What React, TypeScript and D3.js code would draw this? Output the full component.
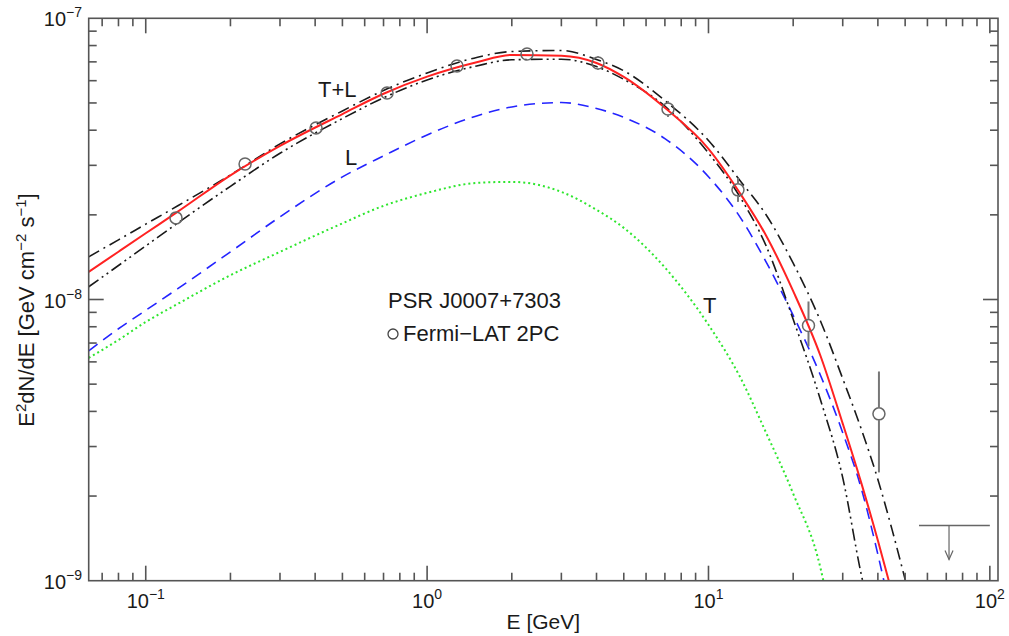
import React from 'react';
import * as d3 from 'd3';

// ---- axis domains ----
const X_MIN = 0.0627;
const X_MAX = 106.9;
const Y_MIN = 1e-9;
const Y_MAX = 1e-7;
const UNIT = 1e-8; // flux values below are in units of 1e-8 GeV cm^-2 s^-1

// ---- model curves ----
const totalE = [0.0627, 0.08, 0.1, 0.13, 0.2, 0.3, 0.5, 0.7, 1, 1.5, 2, 3, 4, 5, 7, 10, 13, 16, 20, 25, 30, 35, 40, 45];
const totalF = [1.254, 1.479, 1.72, 2.053, 2.765, 3.518, 4.566, 5.391, 6.202, 6.977, 7.41, 7.36, 6.938, 6.186, 4.803, 3.435, 2.371, 1.692, 1.071, 0.631, 0.362, 0.221, 0.139, 0.09];

const lE = [0.0627, 0.08, 0.1, 0.13, 0.2, 0.3, 0.5, 0.7, 1, 1.5, 2, 3, 4, 5, 7, 10, 13, 16, 20, 25, 30, 35, 40, 45];
const lF = [0.657, 0.787, 0.915, 1.093, 1.477, 1.968, 2.729, 3.241, 3.848, 4.495, 4.838, 5.016, 4.779, 4.444, 3.734, 2.734, 1.951, 1.364, 0.878, 0.538, 0.336, 0.211, 0.124, 0.073];

const tE = [0.0627, 0.08, 0.1, 0.13, 0.2, 0.3, 0.5, 0.7, 1, 1.5, 2, 3, 4, 5, 7, 10, 13, 16, 20, 25, 30];
const tF = [0.62, 0.718, 0.832, 0.965, 1.22, 1.477, 1.866, 2.153, 2.394, 2.598, 2.62, 2.414, 2.084, 1.798, 1.299, 0.813, 0.526, 0.337, 0.204, 0.111, 0.041];

const upperE = [0.0627, 0.08, 0.1, 0.13, 0.2, 0.3, 0.5, 0.7, 1, 1.5, 2, 3, 4, 5, 7, 10, 13, 16, 20, 25, 30, 35, 40, 45, 50, 55];
const upperF = [1.418, 1.63, 1.853, 2.154, 2.774, 3.575, 4.684, 5.539, 6.392, 7.255, 7.62, 7.683, 7.137, 6.507, 5.099, 3.676, 2.635, 2.005, 1.346, 0.839, 0.523, 0.344, 0.229, 0.151, 0.101, 0.07];

const lowerE = [0.0627, 0.08, 0.1, 0.13, 0.2, 0.3, 0.5, 0.7, 1, 1.5, 2, 3, 4, 5, 7, 10, 13, 16, 20, 25, 30, 35, 38];
const lowerF = [1.11, 1.321, 1.55, 1.872, 2.527, 3.311, 4.401, 5.217, 6.036, 6.769, 7.12, 7.155, 6.736, 6.066, 4.87, 3.314, 2.298, 1.557, 0.85, 0.44, 0.2325, 0.104, 0.073];

// ---- Fermi-LAT 2PC points ----
const ptE = [0.1281, 0.2254, 0.403, 0.7204, 1.277, 2.265, 4.049, 7.18, 12.73, 22.67, 40.35];
const ptF = [1.951, 3.035, 4.076, 5.426, 6.769, 7.466, 6.938, 4.76, 2.454, 0.808, 0.392];
const ptLo = [1.9, 2.97, 4.0, 5.33, 6.66, 7.34, 6.551, 4.459, 2.224, 0.681, 0.2427];
const ptHi = [2.0, 3.1, 4.15, 5.52, 6.88, 7.59, 7.345, 5.083, 2.707, 0.984, 0.5547];

// upper limit
const ulE = 71.6;
const ulELo = 56.0;
const ulEHi = 100;
const ulF = 0.157;
const ulArrowF = 0.119;

// ticks
const xMajor = [0.1, 1, 10, 100];
const xMajorExp = ['−1', '0', '1', '2'];
const yMajor = [1e-9, 1e-8, 1e-7];
const yMajorExp = ['−9', '−8', '−7'];

const FONT = "'Liberation Sans', Arial, Helvetica, sans-serif";

export default function App() {
  const W = 1009, H = 636;
  const L = 88.7, R = 998, T = 18.3, B = 580.7;
  const x = d3.scaleLog().domain([X_MIN, X_MAX]).range([L, R]);
  const y = d3.scaleLog().domain([Y_MIN, Y_MAX]).range([B, T]);

  const mk = (es: number[], fs: number[]) => es.map((e, i) => [e, fs[i] * UNIT] as [number, number]);
  const line = d3.line<[number, number]>()
    .x(d => x(d[0]))
    .y(d => y(d[1]))
    .curve(d3.curveMonotoneX);

  const axisCol = '#555';
  const minorLen = 8, majorLen = 15;

  const xTicks: { v: number; major: boolean }[] = [];
  for (let d = -2; d <= 2; d++) {
    for (let m = 1; m <= 9; m++) {
      const v = m * Math.pow(10, d);
      if (v >= X_MIN && v <= X_MAX) xTicks.push({ v, major: m === 1 });
    }
  }
  const yTicks: { v: number; major: boolean }[] = [];
  for (let d = -9; d <= -8; d++) {
    for (let m = 1; m <= 9; m++) {
      const v = m * Math.pow(10, d);
      if (v > Y_MIN * 1.0001 && v < Y_MAX * 0.9999) yTicks.push({ v, major: m === 1 });
    }
  }

  const r = 6;

  return (
    <svg width={W} height={H} style={{ position: 'absolute', left: 0, top: 0, background: '#fff' }} fontFamily={FONT}>
      <defs>
        <clipPath id="plotclip">
          <rect x={L} y={T} width={R - L} height={B - T} />
        </clipPath>
      </defs>
      <rect x={0} y={0} width={W} height={H} fill="#fff" />

      <g clipPath="url(#plotclip)" fill="none">
        <path d={line(mk(tE, tF)) || ''} stroke="#2ee62e" strokeWidth={2} strokeDasharray="2,3" />
        <path d={line(mk(lE, lF)) || ''} stroke="#2424ff" strokeWidth={1.6} strokeDasharray="11,7" />
        <path d={line(mk(upperE, upperF)) || ''} stroke="#1a1a1a" strokeWidth={1.6} strokeDasharray="12,5,2,5" />
        <path d={line(mk(lowerE, lowerF)) || ''} stroke="#1a1a1a" strokeWidth={1.6} strokeDasharray="12,4,2,4,2,4" />
        <path d={line(mk(totalE, totalF)) || ''} stroke="#ff2222" strokeWidth={2} />
      </g>

      {/* data points */}
      <g stroke="#666" fill="none" strokeWidth={1.5}>
        {ptE.map((e, i) => {
          const cx = x(e), cy = y(ptF[i] * UNIT);
          const yh = y(ptHi[i] * UNIT), yl = y(ptLo[i] * UNIT);
          return (
            <g key={i}>
              <circle cx={cx} cy={cy} r={r} />
              {yh < cy - r && <line x1={cx} x2={cx} y1={yh} y2={cy - r} strokeWidth={2} stroke="#777" />}
              {yl > cy + r && <line x1={cx} x2={cx} y1={cy + r} y2={yl} strokeWidth={2} stroke="#777" />}
            </g>
          );
        })}
        {/* upper limit */}
        <line x1={x(ulELo)} x2={x(ulEHi)} y1={y(ulF * UNIT)} y2={y(ulF * UNIT)} stroke="#666" strokeWidth={1.5} />
        <line x1={x(ulE)} x2={x(ulE)} y1={y(ulF * UNIT)} y2={y(ulArrowF * UNIT)} stroke="#666" strokeWidth={1.2} />
        <path d={`M${x(ulE) - 4},${y(ulArrowF * UNIT) - 9} L${x(ulE)},${y(ulArrowF * UNIT)} L${x(ulE) + 4},${y(ulArrowF * UNIT) - 9}`} stroke="#666" strokeWidth={1.2} />
      </g>

      {/* frame and ticks */}
      <g stroke={axisCol} strokeWidth={1.6}>
        <rect x={L} y={T} width={R - L} height={B - T} fill="none" />
        {xTicks.map((t, i) => {
          const px = x(t.v);
          const len = t.major ? majorLen : minorLen;
          return (
            <g key={'xt' + i}>
              <line x1={px} x2={px} y1={B} y2={B - len} />
              <line x1={px} x2={px} y1={T} y2={T + len} />
            </g>
          );
        })}
        {yTicks.map((t, i) => {
          const py = y(t.v);
          const len = t.major ? majorLen : minorLen;
          return (
            <g key={'yt' + i}>
              <line x1={L} x2={L + len} y1={py} y2={py} />
              <line x1={R} x2={R - len} y1={py} y2={py} />
            </g>
          );
        })}
      </g>

      {/* tick labels */}
      <g fill="#1a1a1a" fontSize={20}>
        {xMajor.map((v, i) => (
          <text key={'xl' + i} x={x(v)} y={608} textAnchor="middle">
            10<tspan dy={-9} fontSize={14}>{xMajorExp[i]}</tspan>
          </text>
        ))}
        {yMajor.map((v, i) => (
          <text key={'yl' + i} x={82} y={y(v) + 8} textAnchor="end">
            10<tspan dy={-9} fontSize={14}>{yMajorExp[i]}</tspan>
          </text>
        ))}
      </g>

      {/* axis titles */}
      <text x={(L + R) / 2} y={629} textAnchor="middle" fontSize={21} fill="#1a1a1a">E [GeV]</text>
      <text transform="translate(34,310) rotate(-90)" textAnchor="middle" fontSize={22} fill="#1a1a1a">
        E<tspan dy={-8} fontSize={15}>2</tspan><tspan dy={8}>dN/dE [GeV cm</tspan><tspan dy={-8} fontSize={15}>−2</tspan><tspan dy={8}> s</tspan><tspan dy={-8} fontSize={15}>−1</tspan><tspan dy={8}>]</tspan>
      </text>

      {/* annotations */}
      <g fill="#1a1a1a" fontSize={22}>
        <text x={318} y={97}>T+L</text>
        <text x={345} y={165}>L</text>
        <text x={703} y={313}>T</text>
        <text x={388} y={308}>PSR J0007+7303</text>
        <text x={403} y={341}>Fermi−LAT 2PC</text>
      </g>
      <circle cx={393} cy={334} r={5} fill="none" stroke="#444" strokeWidth={1.3} />
    </svg>
  );
}
